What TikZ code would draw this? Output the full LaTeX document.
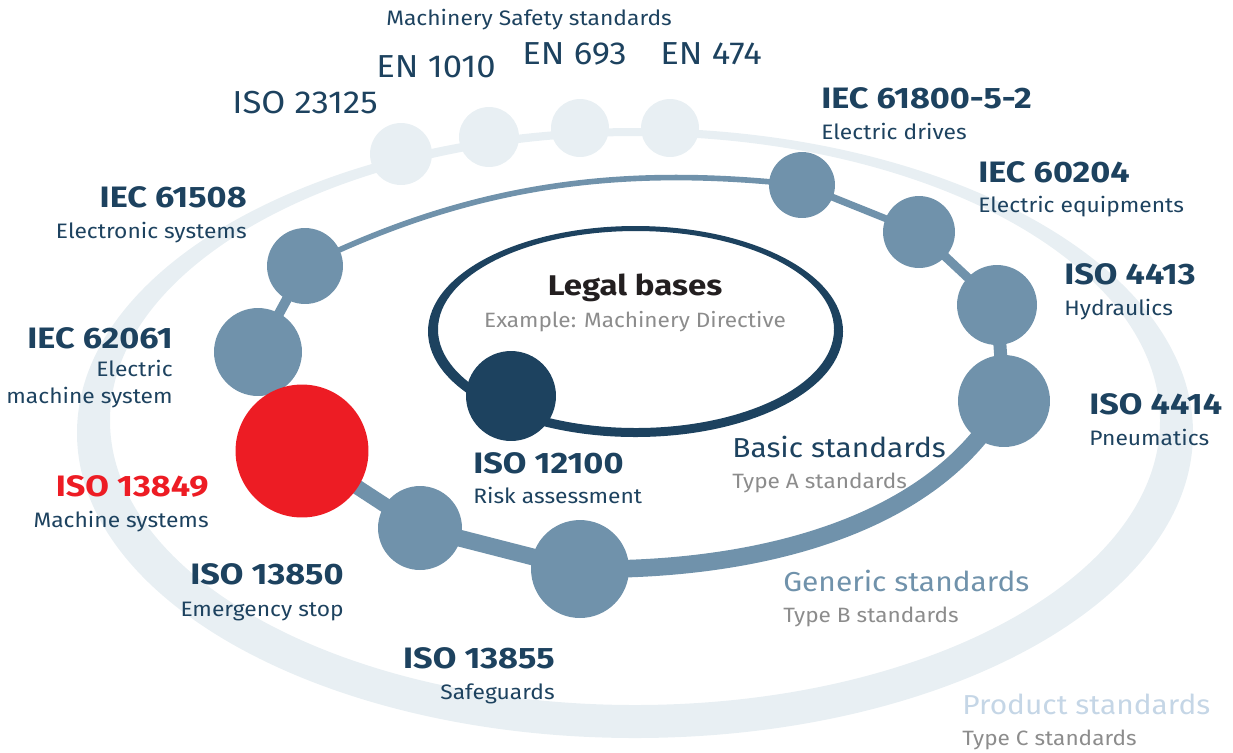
\documentclass[tikz,border=0pt]{standalone}
\usepackage{fontspec}
\setmainfont{Fira Sans}[FakeStretch=1.09, BoldFeatures={FakeStretch=1.16}]
\usetikzlibrary{backgrounds}
\definecolor{navy}{HTML}{1D425F}
\definecolor{steel}{HTML}{7092AB}
\definecolor{pale}{HTML}{E8EFF3}
\definecolor{boschred}{HTML}{ED1C24}
\definecolor{notegray}{HTML}{8C8C8C}
\definecolor{inkblack}{HTML}{231F20}
\definecolor{paletext}{HTML}{C5D6E6}
\tikzset{
	std/.style={circle, fill=steel, inner sep=0pt, minimum size=#1*0.04cm},
	ghost/.style={circle, fill=pale, inner sep=0pt, minimum size=#1*0.04cm},
	lbl/.style={inner sep=0pt, text=navy},
	ttl/.style={lbl, font=\fontsize{16.8}{20}\selectfont\bfseries},
	sub/.style={lbl, font=\fontsize{11.9}{14}\selectfont},
	big/.style={lbl, font=\fontsize{18.1}{22}\selectfont},
	head/.style={lbl, font=\fontsize{15.6}{19}\selectfont},
	note/.style={lbl, text=notegray, font=\fontsize{11.8}{15}\selectfont},
	ring/.style={steel, line width=#1}
}
\begin{document}
\begin{tikzpicture}[x=0.02cm, y=-0.02cm]
	\useasboundingbox (0,0) rectangle (1233,752);
	\node[ghost=31] (iso23125) at (401,154) {};
	\node[ghost=30] (en1010) at (489,137) {};
	\node[ghost=29] (en693) at (580,128) {};
	\node[ghost=29] (en474) at (670,128) {};
	\node[std=38] (iec61508) at (305,266) {};
	\node[std=44] (iec62061) at (258,352) {};
	\node[circle, fill=boschred, inner sep=0pt, minimum size=66.5*0.04cm] (iso13849) at (302,451) {};
	\node[std=42] (iso13850) at (420,528) {};
	\node[std=49] (iso13855) at (580,569) {};
	\node[std=46] (iso4414) at (1004,401) {};
	\node[std=40] (iso4413) at (997,305) {};
	\node[std=36] (iec60204) at (919,232) {};
	\node[std=33] (iec61800) at (802,185) {};
	\node[circle, fill=navy, inner sep=0pt, minimum size=45*0.04cm] (iso12100) at (511,396) {};
	\begin{scope}[on background layer]
		\fill[pale, even odd rule] (635,433) ellipse [x radius=558, y radius=305] (635,420.5) ellipse [x radius=525, y radius=284.5];
		\fill[navy, even odd rule] (635.5,331.5) ellipse [x radius=207.5, y radius=105.5] (636,329.5) ellipse [x radius=198, y radius=98.5];
		\draw[ring=3.2pt] (iec61508.center) .. controls (480,180) and (630,166) .. (iec61800.center);
		\draw[ring=4pt] (iec61800.center) -- (iec60204.center);
		\draw[ring=5.1pt] (iec60204.center) -- (iso4413.center);
		\draw[ring=7.4pt] (iso4413.center) -- (iso4414.center);
		\draw[ring=10pt] (iso4414.center) .. controls (935,525) and (760,572) .. (iso13855.center);
		\draw[ring=9.6pt] (iso13855.center) -- (iso13850.center);
		\draw[ring=8.5pt] (iso13850.center) -- (iso13849.center);
		\draw[ring=7pt] (iso13849.center) -- (iec62061.center);
		\draw[ring=5.7pt] (iec62061.center) -- (iec61508.center);
	\end{scope}
	\node[sub, anchor=base west] (msafety) at (386,25) {Machinery Safety standards};
	\node[big, anchor=base west] (tiso23125) at (232,113) {ISO 23125};
	\node[big, anchor=base west] (ten1010) at (376,77) {EN 1010};
	\node[big, anchor=base west] (ten693) at (522,64) {EN 693};
	\node[big, anchor=base west] (ten474) at (660,64) {EN 474};
	\node[ttl, anchor=base west] (tiec61800) at (821,108) {IEC 61800-5-2};
	\node[sub, anchor=base west] (siec61800) at (821,139) {Electric drives};
	\node[ttl, anchor=base west] (tiec60204) at (978,182) {IEC 60204};
	\node[sub, anchor=base west] (siec60204) at (978,212) {Electric equipments};
	\node[ttl, anchor=base west] (tiso4413) at (1064,284) {ISO 4413};
	\node[sub, anchor=base west] (siso4413) at (1064,315) {Hydraulics};
	\node[ttl, anchor=base west] (tiso4414) at (1089,414) {ISO 4414};
	\node[sub, anchor=base west] (siso4414) at (1089,445) {Pneumatics};
	\node[ttl, anchor=base east] (tiec61508) at (247,207) {IEC 61508};
	\node[sub, anchor=base east] (siec61508) at (247,238) {Electronic systems};
	\node[ttl, anchor=base east] (tiec62061) at (173,348) {IEC 62061};
	\node[sub, anchor=base east] (siec62061) at (173,376) {Electric};
	\node[sub, anchor=base east] (siec62061b) at (173,403) {machine system};
	\node[ttl, text=boschred, anchor=base east] (tiso13849) at (209,496) {ISO 13849};
	\node[sub, anchor=base east] (siso13849) at (209,527) {Machine systems};
	\node[ttl, anchor=base east] (tiso13850) at (344,584) {ISO 13850};
	\node[sub, anchor=base east] (siso13850) at (344,616) {Emergency stop};
	\node[ttl, anchor=base east] (tiso13855) at (555,668) {ISO 13855};
	\node[sub, anchor=base east] (siso13855) at (555,699) {Safeguards};
	\node[ttl, anchor=base west] (tiso12100) at (473,473) {ISO 12100};
	\node[sub, anchor=base west] (siso12100) at (473,503) {Risk assessment};
	\node[ttl, text=inkblack, font=\fontsize{16.2}{20}\selectfont\bfseries, anchor=base] (legal) at (635,295) {Legal bases};
	\node[note, anchor=base] (legalex) at (635,327) {Example: Machinery Directive};
	\node[head, anchor=base west] (basic) at (732,457) {Basic standards};
	\node[note, anchor=base west] (typea) at (732,488) {Type A standards};
	\node[head, text=steel, anchor=base west] (generic) at (783,591) {Generic standards};
	\node[note, anchor=base west] (typeb) at (783,622) {Type B standards};
	\node[head, text=paletext, anchor=base west] (product) at (962,714) {Product standards};
	\node[note, anchor=base west] (typec) at (962,745) {Type C standards};
\end{tikzpicture}
\end{document}
